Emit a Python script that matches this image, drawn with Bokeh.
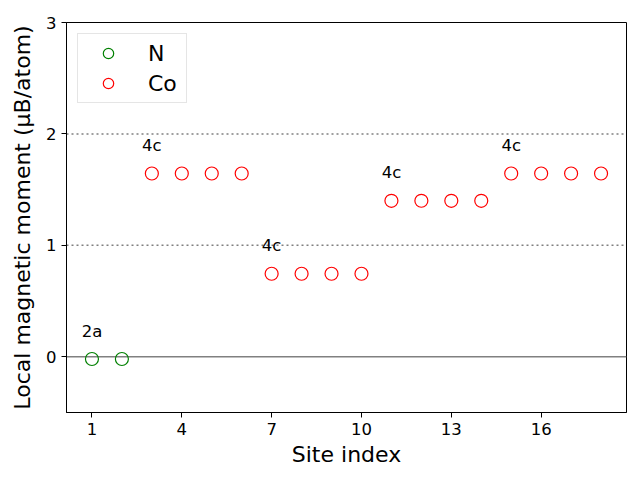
from bokeh.plotting import figure
from bokeh.models import Span, ColumnDataSource, FixedTicker, Legend, LegendItem, Range1d
from bokeh.core.properties import value
from bokeh.embed import file_html
from bokeh.resources import INLINE

n_sites = [1, 2]
n_moments = [-0.02, -0.02]
co_sites = list(range(3, 19))
co_moments = [1.645, 1.645, 1.645, 1.645,
              0.745, 0.745, 0.745, 0.745,
              1.40, 1.40, 1.40, 1.40,
              1.645, 1.645, 1.645, 1.645]
wyckoff_labels = ["2a", "4c", "4c", "4c", "4c"]
wyckoff_sites = [1, 3, 7, 11, 15]
x_ticks = [1, 4, 7, 10, 13, 16]
y_ticks = [0, 1, 2, 3]

FONT = "DejaVu Sans"

p = figure(width=640, height=480, output_backend="svg", toolbar_location=None,
           x_range=Range1d(0.15, 18.85), y_range=Range1d(-0.5, 3.0),
           min_border_left=66, min_border_right=14, min_border_top=22, min_border_bottom=68)
p.background_fill_color = "white"
p.border_fill_color = "white"
p.outline_line_color = "black"
p.outline_line_width = 1
p.grid.visible = False

# reference lines
p.add_layout(Span(location=0, dimension="width", line_color="gray", line_width=1.5, level="underlay"))
for yv in (1, 2):
    p.add_layout(Span(location=yv, dimension="width", line_color="gray", line_width=1.5,
                      line_dash="2 3", level="underlay"))

rn = p.scatter(n_sites, n_moments, size=13, fill_color=None, line_color="green", line_width=1.2)
rc = p.scatter(co_sites, co_moments, size=13, fill_color=None, line_color="red", line_width=1.2)

all_sites = n_sites + co_sites
all_moments = n_moments + co_moments
lab_y = [all_moments[all_sites.index(s)] + 0.25 for s in wyckoff_sites]
src = ColumnDataSource(dict(x=wyckoff_sites, y=lab_y, t=wyckoff_labels))
p.text(x="x", y="y", text="t", source=src, text_align="center", text_baseline="alphabetic",
       text_font=value(FONT), text_font_size="16.5px", text_color="black")

for ax in (p.xaxis[0], p.yaxis[0]):
    ax.major_label_text_font = FONT
    ax.major_label_text_font_size = "16.5px"
    ax.major_label_text_color = "black"
    ax.axis_label_text_font = FONT
    ax.axis_label_text_font_size = "22px"
    ax.axis_label_text_font_style = "normal"
    ax.axis_label_text_color = "black"
    ax.minor_tick_line_color = None
    ax.major_tick_in = 0
    ax.major_tick_out = 5
    ax.axis_line_color = "black"
    ax.major_tick_line_color = "black"

p.xaxis[0].ticker = FixedTicker(ticks=x_ticks)
p.yaxis[0].ticker = FixedTicker(ticks=y_ticks)
p.xaxis[0].axis_label = "Site index"
p.yaxis[0].axis_label = "Local magnetic moment (μB/atom)"
p.xaxis[0].axis_label_standoff = 4
p.yaxis[0].axis_label_standoff = 8

legend = Legend(items=[LegendItem(label="N", renderers=[rn]), LegendItem(label="Co", renderers=[rc])],
                location="top_left")
legend.label_text_font = FONT
legend.label_text_font_size = "22px"
legend.label_text_color = "black"
legend.border_line_color = "#cccccc"
legend.border_line_width = 1
legend.background_fill_alpha = 0.8
legend.margin = 11
legend.padding = 6
legend.spacing = 4
legend.glyph_width = 48
legend.glyph_height = 26
legend.label_standoff = 16
legend.label_width = 32
legend.label_height = 26
p.add_layout(legend)

open("out.html", "w").write(file_html(p, INLINE))
